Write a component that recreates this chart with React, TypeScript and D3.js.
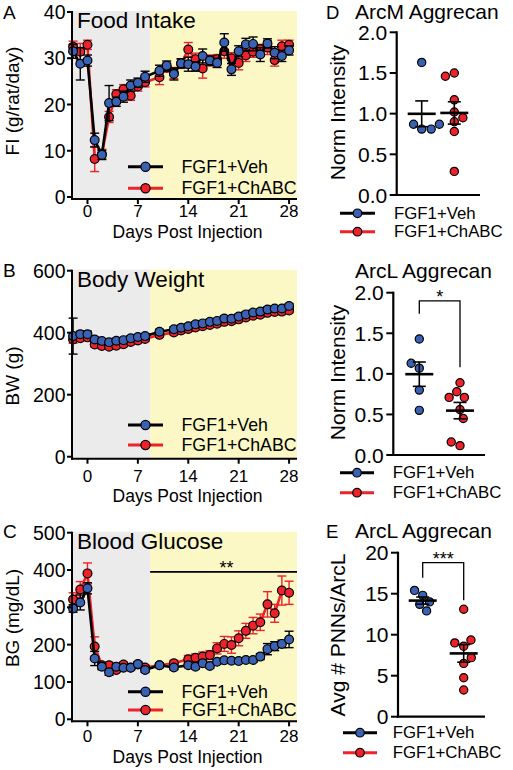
import React from "react";
import * as d3 from "d3";

const FONT = "'Liberation Sans', Arial, Helvetica, sans-serif";
const BLUE = "#3a62b4";
const RED = "#ee2229";
const GRAY = "#ebebeb";
const YELLOW = "#fcf8c5";

const seriesNames = ["FGF1+Veh", "FGF1+ChABC"];
const xTicks = [0, 7, 14, 21, 28];
const xTitle = "Days Post Injection";
const shadeEndDay = 8.7;

// A: Food intake
const fiDays = [-2, -1, 0, 1, 2, 3, 4, 5, 6, 7, 8, 10, 11, 12, 13, 14, 15, 16, 17, 18, 19, 20, 21, 22, 23, 24, 25, 26, 27, 28];
const fiVeh = [31.5, 28.8, 29.5, 12.3, 9.1, 20.3, 20.6, 21.7, 24.1, 24.7, 26.0, 27.3, 28.4, 26.6, 28.9, 28.7, 28.2, 30.5, 29.5, 29.0, 33.4, 27.6, 31.5, 33.0, 33.1, 30.8, 33.2, 31.2, 30.5, 31.7];
const fiVehSem = [1.5, 3.5, 1.2, 1.5, 1.0, 3.8, 1.0, 1.2, 1.2, 1.0, 1.2, 1.2, 1.0, 1.3, 1.0, 1.5, 1.0, 1.5, 1.0, 1.0, 1.9, 1.3, 1.2, 1.3, 1.5, 1.5, 1.0, 1.3, 1.2, 1.0];
const fiChabc = [32.5, 31.4, 32.9, 8.2, 9.3, 17.3, 22.2, 23.3, 21.9, 23.9, 24.8, 25.9, 28.0, 26.8, 28.8, 31.9, 29.8, 27.8, 29.5, 29.8, 31.5, 30.0, 29.0, 30.6, 31.4, 32.0, 32.3, 29.6, 32.6, 32.9];
const fiChabcSem = [1.2, 1.8, 1.0, 2.7, 1.0, 1.2, 1.0, 1.0, 1.0, 1.0, 1.0, 1.6, 1.0, 1.2, 1.0, 1.5, 1.3, 2.1, 1.2, 1.0, 1.5, 1.2, 1.5, 1.3, 1.2, 1.0, 1.5, 1.3, 1.3, 1.0];
const fiTicks = [0, 10, 20, 30, 40];

// B: Body weight
const bwDays = [-2, -1, 0, 1, 2, 3, 4, 5, 6, 7, 8, 10, 12, 13, 14, 15, 16, 17, 18, 19, 20, 21, 22, 23, 24, 25, 26, 27, 28];
const bwVeh = [389, 395, 395, 378, 373, 369, 374, 376, 382, 386, 389, 403, 411, 416, 421, 427, 430, 435, 438, 446, 445, 452, 459, 465, 468, 475, 478, 478, 486];
const bwVehSem = [58, 10, 10, 8, 8, 8, 8, 8, 8, 8, 8, 8, 8, 8, 8, 8, 8, 8, 8, 8, 8, 8, 8, 8, 8, 8, 8, 8, 8];
const bwChabc = [378, 382, 385, 362, 357, 355, 358, 363, 370, 375, 380, 393, 401, 407, 412, 417, 421, 425, 429, 435, 437, 443, 449, 455, 458, 464, 467, 468, 472];
const bwChabcSem = [12, 8, 8, 8, 8, 8, 8, 8, 8, 8, 8, 8, 8, 8, 8, 8, 8, 8, 8, 8, 8, 8, 8, 8, 8, 8, 8, 8, 8];
const bwTicks = [0, 200, 400, 600];

// C: Blood glucose
const bgDays = [-2, -1, 0, 1, 2, 3, 4, 5, 6, 7, 8, 10, 12, 14, 15, 16, 17, 18, 19, 20, 21, 22, 23, 24, 25, 26, 27, 28];
const bgVeh = [297, 313, 351, 163, 141, 126, 141, 138, 138, 148, 132, 145, 139, 145, 141, 150, 143, 154, 158, 157, 156, 159, 159, 168, 188, 196, 202, 214];
const bgVehSem = [10, 20, 15, 19, 8, 8, 6, 6, 6, 6, 6, 6, 6, 6, 6, 6, 6, 6, 6, 6, 6, 6, 6, 8, 15, 12, 10, 22];
const bgChabc = [321, 348, 391, 195, 145, 145, 132, 147, 139, 147, 139, 145, 150, 161, 165, 168, 172, 190, 202, 199, 217, 237, 251, 260, 308, 284, 345, 339];
const bgChabcSem = [18, 21, 28, 26, 8, 8, 6, 6, 6, 6, 6, 6, 8, 10, 10, 12, 12, 15, 20, 22, 20, 20, 22, 22, 34, 24, 39, 31];
const bgTicks = [0, 100, 200, 300, 400, 500];
const bgSigLevel = 395;

// D: ArcM aggrecan
const arcmVeh = [1.63, 0.81, 0.87, 0.81, 0.87];
const arcmChabc = [1.50, 1.46, 1.17, 1.02, 0.90, 0.95, 0.78, 0.29];
// ArcL aggrecan
const arclVeh = [1.43, 1.07, 1.13, 0.80, 0.55];
const arclChabc = [0.89, 0.78, 0.71, 0.71, 0.56, 0.45, 0.115, 0.16];
const arclSig = { label: "*", top: 1.9, left: 1.74, right: 1.08 };
// E: PNN count
const pnnVeh = [14.8, 15.4, 14.0, 13.7, 12.9];
const pnnChabc = [13.1, 8.6, 9.0, 9.35, 6.5, 7.2, 4.75, 3.25];
const pnnSig = { label: "***", top: 18.8, left: 16.95, right: 14.2 };
const normTicks = [0, 0.5, 1.0, 1.5, 2.0];
const pnnTicks = [0, 5, 10, 15, 20];

type TS = { days: number[]; mean: number[]; sem: number[] };

function Legend({ x0, x1, textX, ys, fontSize, r }: any) {
  const cx = (x0 + x1) / 2;
  const cols = [
    { line: "#000", fill: BLUE },
    { line: RED, fill: RED },
  ];
  return (
    <g>
      {seriesNames.map((name, i) => (
        <g key={name}>
          <line x1={x0} x2={x1} y1={ys[i]} y2={ys[i]} stroke={cols[i].line} strokeWidth={3} />
          <circle cx={cx} cy={ys[i]} r={r} fill={cols[i].fill} stroke="#000" strokeWidth={1.2} />
          <text x={textX} y={ys[i]} fontSize={fontSize} dominantBaseline="central" fill="#000">
            {name}
          </text>
        </g>
      ))}
    </g>
  );
}

function TimePanel(p: any) {
  const x = d3.scaleLinear().domain([-2.15, 29.1]).range([72, 297]);
  const y = d3.scaleLinear().domain([0, p.yMax]).range([p.y0, p.yTop]);
  const axisY = p.y0 + 2;
  const [xl, xr] = x.range();
  const line = d3
    .line<[number, number]>()
    .x((d) => x(d[0]))
    .y((d) => y(d[1]));

  const series = (s: TS, lineColor: string, fill: string, errColor: string) => (
    <g>
      {s.days.map((d, i) => {
        const cx = x(d);
        const lo = y(s.mean[i] - s.sem[i]);
        const hi = y(s.mean[i] + s.sem[i]);
        return (
          <g key={i} stroke={errColor} strokeWidth={1.4}>
            <line x1={cx} x2={cx} y1={lo} y2={hi} />
            <line x1={cx - 4.5} x2={cx + 4.5} y1={lo} y2={lo} />
            <line x1={cx - 4.5} x2={cx + 4.5} y1={hi} y2={hi} />
          </g>
        );
      })}
      <path d={line(d3.zip(s.days, s.mean) as any) || ""} fill="none" stroke={lineColor} strokeWidth={2.6} />
      {s.days.map((d, i) => (
        <circle key={i} cx={x(d)} cy={y(s.mean[i])} r={4.4} fill={fill} stroke="#000" strokeWidth={1.2} />
      ))}
    </g>
  );

  return (
    <g>
      <rect x={xl} y={p.yTop - 1} width={x(shadeEndDay) - xl} height={axisY - p.yTop + 1} fill={GRAY} />
      <rect x={x(shadeEndDay)} y={p.yTop - 1} width={xr - x(shadeEndDay)} height={axisY - p.yTop + 1} fill={YELLOW} />
      <text x={3} y={p.letterBaseline} fontSize={19}>{p.letter}</text>
      <text x={77} y={p.titleBaseline} fontSize={22.5}>{p.title}</text>
      {p.sig && (
        <g>
          <line x1={x(shadeEndDay)} x2={xr} y1={y(p.sig.level)} y2={y(p.sig.level)} stroke="#000" strokeWidth={1.8} />
          <text x={(x(shadeEndDay) + xr) / 2 + 3} y={y(p.sig.level) + 2.5} fontSize={18} textAnchor="middle">
            {p.sig.label}
          </text>
        </g>
      )}
      {series(p.chabc, RED, RED, RED)}
      {series(p.veh, "#000", BLUE, "#000")}
      <Legend x0={128} x1={163} textX={181.5} ys={p.legendYs} fontSize={17.8} r={4.6} />
      {/* axes */}
      <line x1={xl} x2={xl} y1={p.yTop - 1} y2={axisY + 1} stroke="#000" strokeWidth={2} />
      <line x1={xl - 1} x2={xr} y1={axisY} y2={axisY} stroke="#000" strokeWidth={2} />
      {p.yTicks.map((t: number) => (
        <g key={t}>
          <line x1={xl - 5} x2={xl} y1={y(t)} y2={y(t)} stroke="#000" strokeWidth={2} />
          <text x={xl - 6.5} y={y(t)} fontSize={19.5} textAnchor="end" dominantBaseline="central">
            {t}
          </text>
        </g>
      ))}
      {xTicks.map((t) => (
        <g key={t}>
          <line x1={x(t)} x2={x(t)} y1={axisY} y2={axisY + 5} stroke="#000" strokeWidth={2} />
          <text x={x(t)} y={p.tickLabelY} fontSize={17} textAnchor="middle" dominantBaseline="central">
            {t}
          </text>
        </g>
      ))}
      <text x={(xl + xr) / 2 + 3} y={p.axisTitleY} fontSize={17.5} textAnchor="middle" dominantBaseline="central">
        {xTitle}
      </text>
      <text
        transform={`translate(12.5,${p.yLabelY}) rotate(-90)`}
        fontSize={19}
        textAnchor="middle"
        dominantBaseline="central"
      >
        {p.yLabel}
      </text>
    </g>
  );
}

function swarm(vals: number[], y: (v: number) => number, D: number) {
  const placed: { x: number; y: number }[] = [];
  let preferLeft = true;
  return vals.map((v) => {
    const py = y(v);
    const iv: [number, number][] = [];
    for (const q of placed) {
      const dy = Math.abs(q.y - py);
      if (dy < D) {
        const dx = Math.sqrt(D * D - dy * dy);
        iv.push([q.x - dx, q.x + dx]);
      }
    }
    const cands = [0, ...iv.flatMap(([a, b]) => [a, b])];
    const ok = cands.filter((c) => iv.every(([a, b]) => c <= a + 1e-6 || c >= b - 1e-6));
    ok.sort((a, b) => {
      const d = Math.abs(a) - Math.abs(b);
      if (Math.abs(d) > 0.01) return d;
      return preferLeft ? a - b : b - a;
    });
    const px = ok[0];
    if (ok.length > 1 && Math.abs(Math.abs(ok[0]) - Math.abs(ok[1])) <= 0.01 && Math.abs(px) > 0.01) {
      preferLeft = !preferLeft;
    }
    placed.push({ x: px, y: py });
    return px;
  });
}

function ScatterPanel(p: any) {
  const y = d3.scaleLinear().domain([0, p.yMax]).range([p.y0, p.yTop]);
  const xc = d3.scalePoint<string>().domain(seriesNames).range(p.centers);
  const fills = [BLUE, RED];
  const groups = [p.veh, p.chabc];
  return (
    <g>
      {p.letter && <text x={326} y={p.titleBaseline} fontSize={18.5}>{p.letter}</text>}
      <text x={355} y={p.titleBaseline} fontSize={21}>{p.title}</text>
      <text
        transform={`translate(337,${p.yLabelY}) rotate(-90)`}
        fontSize={21}
        textAnchor="middle"
        dominantBaseline="central"
      >
        {p.yLabel}
      </text>
      {groups.map((vals: number[], gi: number) => {
        const cx = xc(seriesNames[gi]) as number;
        const offs = swarm(vals, y, 9.5);
        return (
          <g key={gi}>
            {vals.map((v, i) => (
              <circle key={i} cx={cx + offs[i]} cy={y(v)} r={4.1} fill={fills[gi]} stroke="#000" strokeWidth={1.2} />
            ))}
          </g>
        );
      })}
      {groups.map((vals: number[], gi: number) => {
        const cx = xc(seriesNames[gi]) as number;
        const m = d3.mean(vals) as number;
        const se = (d3.deviation(vals) as number) / Math.sqrt(vals.length);
        return (
          <g key={"m" + gi} stroke="#000">
            <line x1={cx - 14} x2={cx + 14} y1={y(m)} y2={y(m)} strokeWidth={2.6} />
            <line x1={cx} x2={cx} y1={y(m - se)} y2={y(m + se)} strokeWidth={1.6} />
            <line x1={cx - 6.5} x2={cx + 6.5} y1={y(m - se)} y2={y(m - se)} strokeWidth={1.6} />
            <line x1={cx - 6.5} x2={cx + 6.5} y1={y(m + se)} y2={y(m + se)} strokeWidth={1.6} />
          </g>
        );
      })}
      {p.sig && (
        <g>
          <path
            d={`M${p.centers[0]},${y(p.sig.left)}V${y(p.sig.top)}H${p.centers[1]}V${y(p.sig.right)}`}
            fill="none"
            stroke="#000"
            strokeWidth={1.3}
          />
          <text x={(p.centers[0] + p.centers[1]) / 2} y={y(p.sig.top) + 2.5} fontSize={18} textAnchor="middle">
            {p.sig.label}
          </text>
        </g>
      )}
      <line x1={p.axisX} x2={p.axisX} y1={p.yTop - 1} y2={p.y0 + 1} stroke="#000" strokeWidth={2.2} />
      <line x1={p.axisX - 1} x2={p.xEnd} y1={p.y0} y2={p.y0} stroke="#000" strokeWidth={2.2} />
      {p.yTicks.map((t: number) => (
        <g key={t}>
          <line x1={p.axisX - 7} x2={p.axisX} y1={y(t)} y2={y(t)} stroke="#000" strokeWidth={2} />
          <text x={p.axisX - 9.5} y={y(t)} fontSize={21} textAnchor="end" dominantBaseline="central">
            {p.tickFmt(t)}
          </text>
        </g>
      ))}
      <Legend x0={p.legendX[0]} x1={p.legendX[1]} textX={p.textX} ys={p.legendYs} fontSize={16.8} r={4.3} />
    </g>
  );
}

export default function App() {
  const f1 = d3.format(".1f");
  const f0 = d3.format("d");
  return (
    <div style={{ position: "absolute", left: 0, top: 0, width: 513, height: 770, background: "#fff" }}>
      <svg width={513} height={770} style={{ display: "block", fontFamily: FONT }}>
        <rect width={513} height={770} fill="#fff" />
        <TimePanel
          letter="A"
          title="Food Intake"
          yLabel="FI (g/rat/day)"
          yTicks={fiTicks}
          yMax={40}
          yTop={12}
          y0={197}
          veh={{ days: fiDays, mean: fiVeh, sem: fiVehSem }}
          chabc={{ days: fiDays, mean: fiChabc, sem: fiChabcSem }}
          legendYs={[166.7, 188.3]}
          tickLabelY={211}
          axisTitleY={232}
          letterBaseline={18.5}
          titleBaseline={28.3}
          yLabelY={101}
        />
        <TimePanel
          letter="B"
          title="Body Weight"
          yLabel="BW (g)"
          yTicks={bwTicks}
          yMax={600}
          yTop={270.7}
          y0={456.7}
          veh={{ days: bwDays, mean: bwVeh, sem: bwVehSem }}
          chabc={{ days: bwDays, mean: bwChabc, sem: bwChabcSem }}
          legendYs={[425, 445]}
          tickLabelY={476.5}
          axisTitleY={496}
          letterBaseline={277.3}
          titleBaseline={287.3}
          yLabelY={376}
        />
        <TimePanel
          letter="C"
          title="Blood Glucose"
          yLabel="BG (mg/dL)"
          yTicks={bgTicks}
          yMax={500}
          yTop={532.7}
          y0={719.3}
          veh={{ days: bgDays, mean: bgVeh, sem: bgVehSem }}
          chabc={{ days: bgDays, mean: bgChabc, sem: bgChabcSem }}
          legendYs={[691.7, 710]}
          tickLabelY={736}
          axisTitleY={757}
          letterBaseline={538.3}
          titleBaseline={549.3}
          yLabelY={618}
          sig={{ label: "**", level: bgSigLevel }}
        />
        <ScatterPanel
          letter="D"
          title="ArcM Aggrecan"
          yLabel="Norm Intensity"
          yTicks={normTicks}
          tickFmt={f1}
          yMax={2}
          yTop={32.3}
          y0={195}
          axisX={396.7}
          xEnd={480}
          centers={[421.7, 454.3]}
          veh={arcmVeh}
          chabc={arcmChabc}
          titleBaseline={19}
          yLabelY={112.5}
          legendYs={[213.3, 231.7]}
          legendX={[340, 375]}
          textX={394}
        />
        <ScatterPanel
          title="ArcL Aggrecan"
          yLabel="Norm Intensity"
          yTicks={normTicks}
          tickFmt={f1}
          yMax={2}
          yTop={292.7}
          y0={455}
          axisX={393.3}
          xEnd={485}
          centers={[419.3, 460]}
          veh={arclVeh}
          chabc={arclChabc}
          titleBaseline={278.3}
          yLabelY={372.5}
          legendYs={[472.7, 492.7]}
          legendX={[340, 374]}
          textX={392.7}
          sig={arclSig}
        />
        <ScatterPanel
          letter="E"
          title="ArcL Aggrecan"
          yLabel="Avg # PNNs/ArcL"
          yTicks={pnnTicks}
          tickFmt={f0}
          yMax={20}
          yTop={552.7}
          y0={716.7}
          axisX={398}
          xEnd={485}
          centers={[422.7, 463.7]}
          veh={pnnVeh}
          chabc={pnnChabc}
          titleBaseline={538.3}
          yLabelY={635}
          legendYs={[732.7, 752.7]}
          legendX={[343, 377]}
          textX={392.7}
          sig={pnnSig}
        />
      </svg>
    </div>
  );
}
